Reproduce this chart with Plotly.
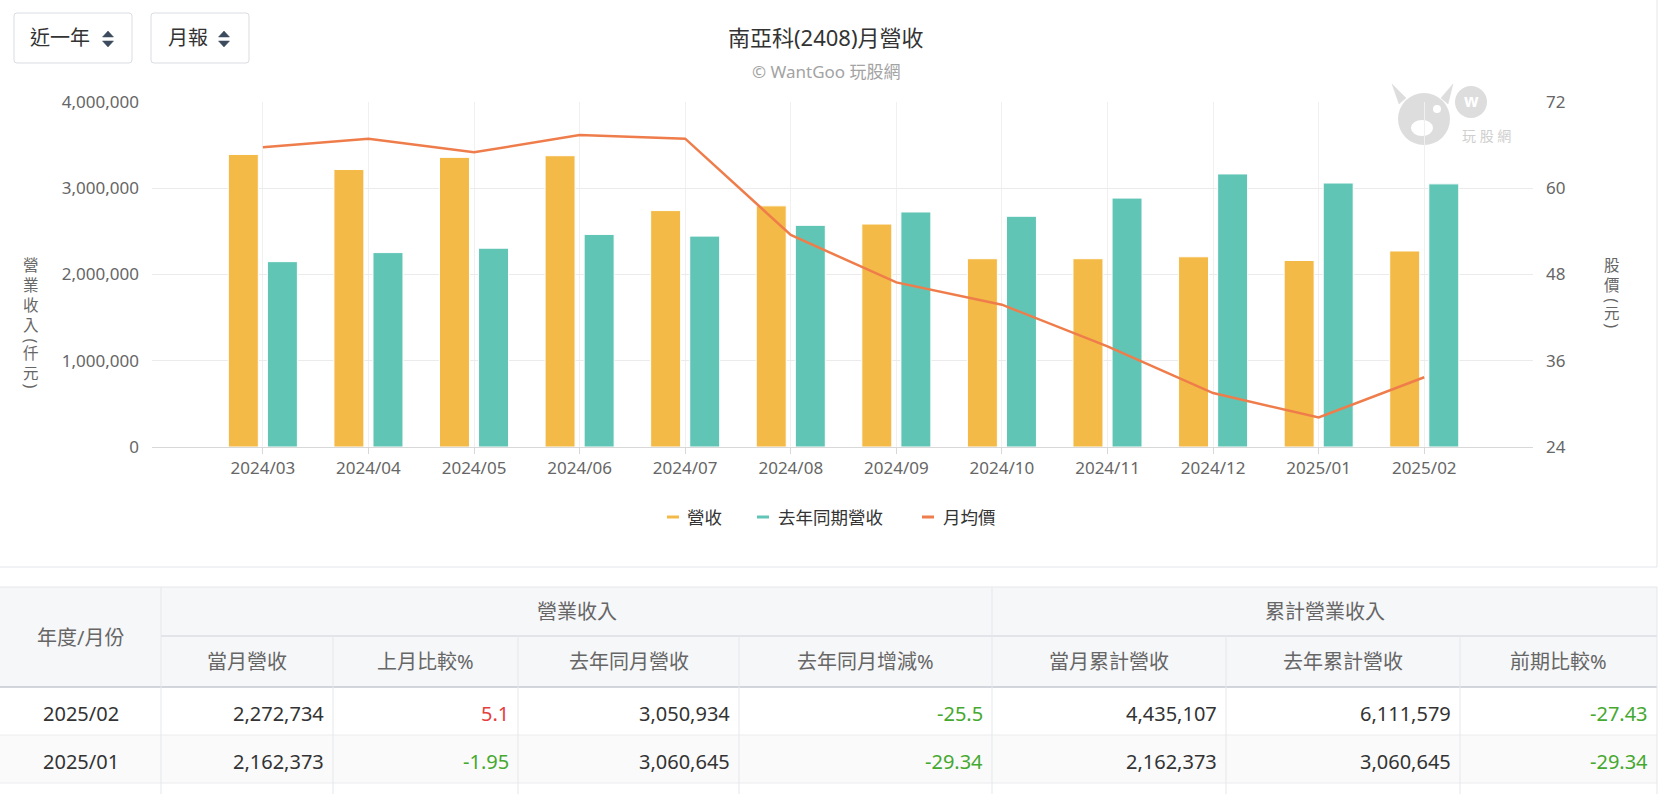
import plotly.graph_objects as go

W, H = 1674, 794

# ---------------- data ----------------
months = ["2024/03", "2024/04", "2024/05", "2024/06", "2024/07", "2024/08",
          "2024/09", "2024/10", "2024/11", "2024/12", "2025/01", "2025/02"]
revenue = [3392000, 3217000, 3358000, 3377000, 2741000, 2796000,
           2585000, 2183000, 2183000, 2205376, 2162373, 2272734]
revenue_last_year = [2149000, 2254000, 2305000, 2465000, 2445000, 2570000,
                     2725000, 2675000, 2886000, 3166000, 3060645, 3050934]
avg_price = [65.7, 66.9, 65.0, 67.4, 66.9, 53.5, 46.9, 43.8, 38.0, 31.5, 28.1, 33.7]

left_ticks = [0, 1000000, 2000000, 3000000, 4000000]
right_ticks = [24, 36, 48, 60, 72]

series_names = ["營收", "去年同期營收", "月均價"]
title_text = "南亞科(2408)月營收"
subtitle_text = "© WantGoo 玩股網"
left_title_parts = ["營業收入", "(", "仟元", ")"]
right_title_parts = ["股價", "(", "元", ")"]
dropdown_labels = ["近一年", "月報"]

table_groups = ["營業收入", "累計營業收入"]
table_columns = ["年度/月份", "當月營收", "上月比較%", "去年同月營收", "去年同月增減%",
                 "當月累計營收", "去年累計營收", "前期比較%"]
table_months = ["2025/02", "2025/01"]
t_month_rev = [2272734, 2162373]
t_mom_pct = [5.1, -1.95]
t_ly_rev = [3050934, 3060645]
t_yoy_pct = [-25.5, -29.34]
t_cum_rev = [4435107, 2162373]
t_ly_cum_rev = [6111579, 3060645]
t_cum_pct = [-27.43, -29.34]

# ---------------- style ----------------
ORANGE = "#F4BA47"
TEAL = "#61C5B6"
LINE = "#EF7D4B"
FONT = "Noto Sans, Noto Sans CJK TC, sans-serif"
GRAY_TXT = "#666666"
DARK_TXT = "#333333"
RED = "#E53E3E"
GREEN = "#45A82F"


def X(px):
    return px / W


def Y(py):
    return 1 - py / H


shapes = []
annotations = []


def hline(y, x0, x1, color, width=1, layer="above"):
    shapes.append(dict(type="line", xref="paper", yref="paper", x0=X(x0), x1=X(x1),
                       y0=Y(y), y1=Y(y), line=dict(color=color, width=width), layer=layer))


def vline(x, y0, y1, color, width=1, layer="above"):
    shapes.append(dict(type="line", xref="paper", yref="paper", x0=X(x), x1=X(x),
                       y0=Y(y0), y1=Y(y1), line=dict(color=color, width=width), layer=layer))


def rect(x0, y0, x1, y1, fill, layer="below"):
    shapes.append(dict(type="rect", xref="paper", yref="paper", x0=X(x0), x1=X(x1),
                       y0=Y(y1), y1=Y(y0), fillcolor=fill, line=dict(width=0), layer=layer))


def text(x, y, s, size, color, xanchor="center", angle=0):
    annotations.append(dict(xref="paper", yref="paper", x=X(x), y=Y(y), text=s,
                            showarrow=False, xanchor=xanchor, yanchor="middle",
                            textangle=angle, font=dict(family=FONT, size=size, color=color)))


def path_from(points, closed=True):
    s = ""
    for cmd, pts in points:
        s += cmd + " " + " ".join(f"{X(px):.6f},{Y(py):.6f}" for px, py in pts) + " "
    return s + ("Z" if closed else "")


def round_rect(x0, y0, x1, y1, r, color):
    pts = [("M", [(x0 + r, y0)]), ("L", [(x1 - r, y0)]), ("Q", [(x1, y0), (x1, y0 + r)]),
           ("L", [(x1, y1 - r)]), ("Q", [(x1, y1), (x1 - r, y1)]), ("L", [(x0 + r, y1)]),
           ("Q", [(x0, y1), (x0, y1 - r)]), ("L", [(x0, y0 + r)]), ("Q", [(x0, y0), (x0 + r, y0)])]
    shapes.append(dict(type="path", xref="paper", yref="paper", path=path_from(pts),
                       line=dict(color=color, width=1), fillcolor="rgba(0,0,0,0)", layer="above"))


def poly(pts, color, layer="above"):
    segs = [("M", [pts[0]])] + [("L", [p]) for p in pts[1:]]
    shapes.append(dict(type="path", xref="paper", yref="paper", path=path_from(segs),
                       line=dict(color=color, width=0.5), fillcolor=color, layer=layer))


# ---------------- figure ----------------
fig = go.Figure()
fig.add_bar(x=months, y=revenue, name=series_names[0], offset=-0.327, width=0.284,
            marker=dict(color=ORANGE, line=dict(color="white", width=1)), showlegend=False)
fig.add_bar(x=months, y=revenue_last_year, name=series_names[1], offset=0.043, width=0.284,
            marker=dict(color=TEAL, line=dict(color="white", width=1)), showlegend=False)
fig.add_scatter(x=months, y=avg_price, name=series_names[2], yaxis="y2", mode="lines",
                line=dict(color=LINE, width=2.5), showlegend=False)

# card borders
hline(567, 0, 1657, "#e3e6eb")
vline(1657, 0, 567, "#e3e6eb")

# dropdowns
for (x0, x1, tx, ax), lab in zip([(14, 132, 28, 108), (151, 249, 166, 224)], dropdown_labels):
    round_rect(x0, 13, x1, 63, 3, "#d9dce1")
    text(tx, 38, lab, 20, DARK_TXT, xanchor="left")
    poly([(ax - 5.5, 37), (ax + 5.5, 37), (ax, 31)], "#3d4b5e")
    poly([(ax - 5.5, 41), (ax + 5.5, 41), (ax, 47)], "#3d4b5e")

# titles
text(826, 37, title_text, 22, DARK_TXT)
text(826, 72, subtitle_text, 17, "#a3a3a3")


def vertical_title(x, parts, top):
    # parts: word, "(", word, ")" -> stacked upright characters, rotated brackets
    fs = 15.5
    pitch = 1.3 * fs
    y = top
    for part in parts:
        if part in "()":
            y += 4
            text(x, y, part, 16, GRAY_TXT, angle=90)
            y += 4
        else:
            n = len(part)
            h = (n - 1) * pitch + 17
            text(x, y + h / 2, "<br>".join(part), fs, GRAY_TXT)
            y += h
            if part == parts[0]:
                y += 3


vertical_title(31, left_title_parts, 256)
vertical_title(1612, right_title_parts, 256)

# watermark (logo)
WM = "#dddddd"
shapes.append(dict(type="circle", xref="paper", yref="paper", x0=X(1398), x1=X(1450),
                   y0=Y(145), y1=Y(93), fillcolor=WM, line=dict(width=0), layer="below"))
poly([(1392, 84), (1406, 98), (1399, 104)], WM, layer="below")
poly([(1453, 84), (1441, 98), (1448, 104)], WM, layer="below")
shapes.append(dict(type="circle", xref="paper", yref="paper", x0=X(1455), x1=X(1487),
                   y0=Y(118), y1=Y(86), fillcolor=WM, line=dict(width=0), layer="below"))
shapes.append(dict(type="circle", xref="paper", yref="paper", x0=X(1411), x1=X(1433),
                   y0=Y(136), y1=Y(120), fillcolor="white", line=dict(width=0), layer="below"))
shapes.append(dict(type="circle", xref="paper", yref="paper", x0=X(1433), x1=X(1441),
                   y0=Y(113), y1=Y(105), fillcolor="white", line=dict(width=0), layer="below"))
text(1471, 101, "<b>w</b>", 17, "white")
text(1486, 135, "玩 股 網", 14, "#cfcfcf")

# legend
for (x0, tx), name, col in zip([(667, 685), (757, 776), (922, 941)], series_names,
                               [ORANGE, TEAL, LINE]):
    hline(517, x0, x0 + 12, col, width=3)
    text(tx, 517, name, 17.5, DARK_TXT, xanchor="left")

# ---------------- table ----------------
col_edges = [0, 161, 333, 518, 739, 992, 1226, 1460, 1657]
r_top, r_h1, r_h2 = 587, 636, 687
row_h = 48
rect(0, r_top, 1657, r_h2, "#f6f7f9")
rect(0, r_h2 + row_h, 1657, r_h2 + 2 * row_h, "#fafafb")
LT = "#e6e7ea"
hline(r_top, 0, 1657, LT)
hline(r_h1, 161, 1657, "#cdd1d9")
hline(r_h2, 0, 1657, "#c4c8d0", width=1.5)
hline(r_h2 + row_h, 0, 1657, "#ececee")
hline(r_h2 + 2 * row_h, 0, 1657, "#ececee")
for x in [161, 992, 1657]:
    vline(x, r_top, H, LT)
for x in [333, 518, 739, 1226, 1460]:
    vline(x, r_h1, H, LT)

text(80.5, (r_top + r_h2) / 2, table_columns[0], 20, GRAY_TXT)
text((161 + 992) / 2, (r_top + r_h1) / 2, table_groups[0], 20, GRAY_TXT)
text((992 + 1657) / 2, (r_top + r_h1) / 2, table_groups[1], 20, GRAY_TXT)
for i, name in enumerate(table_columns[1:], start=1):
    text((col_edges[i] + col_edges[i + 1]) / 2, (r_h1 + r_h2) / 2, name, 20, GRAY_TXT)


def pct_color(v):
    return RED if v > 0 else GREEN


for r in range(len(table_months)):
    yc = r_h2 + row_h * r + row_h / 2 + 2
    vals = [(f"{t_month_rev[r]:,}", DARK_TXT), (f"{t_mom_pct[r]:g}", pct_color(t_mom_pct[r])),
            (f"{t_ly_rev[r]:,}", DARK_TXT), (f"{t_yoy_pct[r]:g}", pct_color(t_yoy_pct[r])),
            (f"{t_cum_rev[r]:,}", DARK_TXT), (f"{t_ly_cum_rev[r]:,}", DARK_TXT),
            (f"{t_cum_pct[r]:g}", pct_color(t_cum_pct[r]))]
    text(80.5, yc, table_months[r], 20, DARK_TXT)
    for c, (s, colr) in enumerate(vals, start=1):
        annotations.append(dict(xref="paper", yref="paper", x=X(col_edges[c + 1] - 7.5), y=Y(yc),
                                text=s, showarrow=False, xanchor="right", yanchor="middle",
                                font=dict(family=FONT, size=20, color=colr)))

fig.update_layout(
    width=W, height=H, autosize=False,
    margin=dict(l=0, r=0, t=0, b=0, pad=0, autoexpand=False),
    paper_bgcolor="white", plot_bgcolor="white",
    font=dict(family=FONT, color=GRAY_TXT),
    barmode="overlay", showlegend=False,
    xaxis=dict(domain=[X(152), X(1533)], type="category", range=[-1.05, 12.03],
               automargin=False,
               showgrid=True, gridcolor="#f0f0f0", gridwidth=1,
               showline=True, linecolor="#d8d8d8", linewidth=1,
               ticks="outside", ticklen=6, tickcolor="#d8d8d8",
               tickfont=dict(size=17, color=GRAY_TXT), fixedrange=True),
    yaxis=dict(domain=[Y(447), Y(102)], range=[0, 4000000], tickvals=left_ticks,
               automargin=False,
               tickformat=",.0f", showgrid=True, gridcolor="#ebebeb", zeroline=False,
               ticks="", ticklabelstandoff=12, tickfont=dict(size=17, color=GRAY_TXT),
               fixedrange=True),
    yaxis2=dict(overlaying="y", side="right", anchor="x", range=[24, 72], tickvals=right_ticks,
                automargin=False,
                showgrid=False, zeroline=False, ticks="", ticklabelstandoff=12,
                tickfont=dict(size=17, color=GRAY_TXT), fixedrange=True),
    shapes=shapes, annotations=annotations,
    hovermode="x",
)

fig.write_html("out.html", config={"displayModeBar": False})
